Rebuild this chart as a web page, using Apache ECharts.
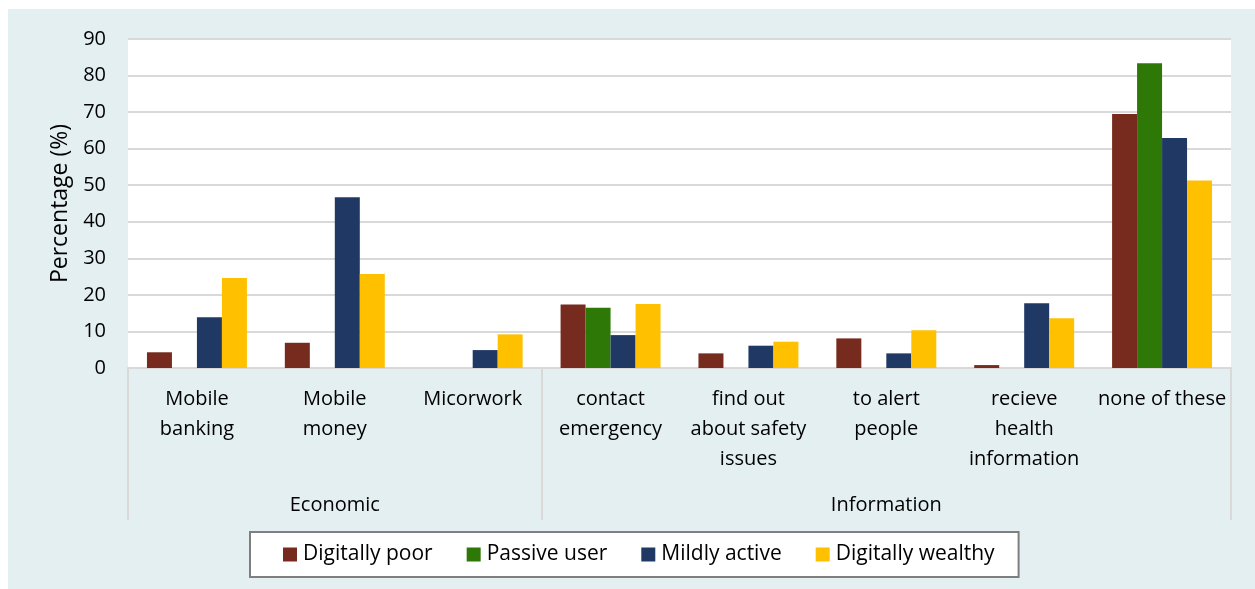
<!DOCTYPE html>
<html>
<head>
<meta charset="utf-8">
<script src="https://cdn.jsdelivr.net/npm/echarts@6/dist/echarts.min.js"></script>
<style>
  html, body { margin: 0; padding: 0; background: #ffffff; }
  #chart { position: absolute; left: 8px; top: 9px; width: 1247px; height: 580px; background: #e4eff1; }
</style>
</head>
<body>
<div id="chart"></div>
<script>
const categories = ['Mobile\nbanking', 'Mobile\nmoney', 'Micorwork', 'contact\nemergency', 'find out\nabout safety\nissues', 'to alert\npeople', 'recieve\nhealth\ninformation', 'none of these'];
const groupLabels = ['', 'Economic', '', '', '', 'Information', '', ''];
const seriesNames = ['Digitally poor', 'Passive user', 'Mildly active', 'Digitally wealthy'];
const digitallyPoor = [4.3, 6.9, null, 17.4, 4.0, 8.1, 0.8, 69.5];
const passiveUser = [null, null, null, 16.5, null, null, null, 83.4];
const mildlyActive = [13.9, 46.7, 4.9, 9.0, 6.1, 4.0, 17.7, 62.9];
const digitallyWealthy = [24.6, 25.7, 9.2, 17.5, 7.2, 10.3, 13.6, 51.3];
const yTicks = [0, 10, 20, 30, 40, 50, 60, 70, 80, 90];

const colors = ['#772b1e', '#2e7807', '#203864', '#ffc000'];
const values = [digitallyPoor, passiveUser, mildlyActive, digitallyWealthy];
const FONT = 'Open Sans';

const chart = echarts.init(document.getElementById('chart'));
chart.setOption({
  animation: false,
  textStyle: { fontFamily: FONT },
  grid: { left: 120, right: 24, top: 30, bottom: 221, show: true, backgroundColor: '#ffffff', borderWidth: 0 },
  legend: {
    data: seriesNames,
    left: 242, top: 523,
    backgroundColor: '#ffffff', borderColor: '#7f7f7f', borderWidth: 2,
    padding: [12, 24, 12, 33],
    itemWidth: 14, itemHeight: 14, itemGap: 34,
    icon: 'rect',
    textStyle: { fontFamily: FONT, fontSize: 21, color: '#000000', padding: [0, 0, 0, 1] }
  },
  xAxis: [
    {
      type: 'category', data: categories, position: 'bottom',
      axisLine: { show: true, lineStyle: { color: '#d9d9d9', width: 2 } },
      axisTick: { show: false },
      axisLabel: { interval: 0, margin: 16, fontSize: 20, lineHeight: 30, color: '#000000', fontFamily: FONT }
    },
    {
      type: 'category', data: groupLabels, position: 'bottom', offset: 0,
      axisLine: { show: false },
      axisTick: { show: true, length: 152, interval: function (i) { return i === 0 || i === 3; }, lineStyle: { color: '#d9d9d9', width: 2 } },
      axisLabel: { interval: 0, margin: 127, fontSize: 20, color: '#000000', fontFamily: FONT }
    }
  ],
  yAxis: {
    type: 'value', min: yTicks[0], max: yTicks[yTicks.length - 1], interval: 10,
    name: 'Percentage (%)', nameLocation: 'middle', nameGap: 52,
    nameTextStyle: { fontSize: 23, color: '#000000', fontFamily: FONT },
    axisLine: { show: false }, axisTick: { show: false },
    axisLabel: { fontSize: 20, color: '#000000', margin: 22, fontFamily: FONT },
    splitLine: { lineStyle: { color: '#d9d9d9', width: 2 } }
  },
  series: seriesNames.map((n, i) => ({
    name: n, type: 'bar', xAxisIndex: 0, data: values[i],
    barGap: '0%', barCategoryGap: '27.5%',
    itemStyle: { color: colors[i] }
  }))
});
</script>
</body>
</html>
